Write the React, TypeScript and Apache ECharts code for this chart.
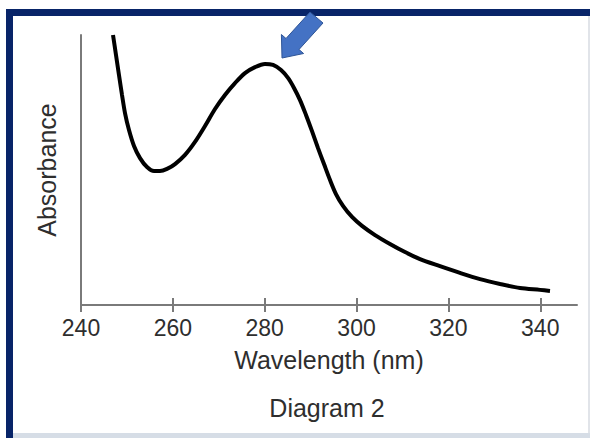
import React, { useEffect, useRef } from "react";
import * as echarts from "echarts";

const wavelengths = [246.97, 247.62, 248.27, 248.93, 249.58, 250.45, 251.54, 252.85, 254.37, 255.9, 257.2, 258.73, 260.47, 262.65, 264.82, 267.0, 269.18, 271.35, 273.53, 275.71, 277.89, 280.06, 281.81, 283.55, 285.07, 286.38, 287.69, 288.99, 290.3, 291.61, 292.91, 294.22, 295.52, 297.05, 299.01, 301.19, 304.02, 307.28, 310.55, 313.81, 318.17, 322.52, 326.88, 331.23, 335.59, 339.94, 342.12];
const absorbance = [1.0, 0.926, 0.852, 0.778, 0.711, 0.648, 0.589, 0.544, 0.511, 0.496, 0.496, 0.504, 0.522, 0.556, 0.604, 0.663, 0.726, 0.778, 0.822, 0.859, 0.881, 0.893, 0.889, 0.87, 0.841, 0.804, 0.759, 0.704, 0.644, 0.581, 0.522, 0.463, 0.411, 0.367, 0.326, 0.293, 0.259, 0.226, 0.196, 0.17, 0.144, 0.119, 0.096, 0.078, 0.063, 0.056, 0.052];
const xTicks = [240, 260, 280, 300, 320, 340];
const xTitle = "Wavelength (nm)";
const yTitle = "Absorbance";
const caption = "Diagram 2";

export default function App() {
  const ref = useRef<HTMLDivElement>(null);
  useEffect(() => {
    document.body.style.margin = "0";
    const chart = echarts.init(ref.current!, null, { renderer: "svg" });
    const font = "'Liberation Sans', Arial, sans-serif";
    const axisColor = "#7a7a7a";
    const textColor = "#2e2e2e";
    chart.setOption({
      animation: false,
      backgroundColor: "#ffffff",
      grid: { left: 81, top: 35, right: 13, bottom: 133, containLabel: false },
      xAxis: [
        {
          type: "value",
          min: 240,
          max: 348,
          interval: 20,
          name: xTitle,
          nameLocation: "middle",
          nameGap: 42,
          nameTextStyle: { fontFamily: font, fontSize: 25, color: textColor },
          axisLine: { show: true, lineStyle: { color: axisColor, width: 2 } },
          axisTick: { show: true, length: 7, customValues: xTicks, lineStyle: { color: axisColor, width: 2 } },
          axisLabel: { customValues: xTicks, margin: 11, fontFamily: font, fontSize: 23, color: textColor },
          splitLine: { show: false },
        },
        {
          type: "value",
          min: 240,
          max: 348,
          interval: 20,
          position: "bottom",
          axisLine: { show: false },
          axisTick: { show: true, inside: true, length: 7, customValues: xTicks, lineStyle: { color: axisColor, width: 2 } },
          axisLabel: { show: false },
          splitLine: { show: false },
        },
      ],
      yAxis: {
        type: "value",
        min: 0,
        max: 1,
        name: yTitle,
        nameLocation: "middle",
        nameGap: 22,
        nameTextStyle: { fontFamily: font, fontSize: 25, color: textColor },
        axisLine: { show: true, lineStyle: { color: axisColor, width: 2 } },
        axisTick: { show: false },
        axisLabel: { show: false },
        splitLine: { show: false },
      },
      series: [
        {
          type: "line",
          xAxisIndex: 0,
          data: wavelengths.map((w, i) => [w, absorbance[i]]),
          smooth: 0.3,
          symbol: "none",
          lineStyle: { color: "#000000", width: 4 },
          clip: false,
        },
      ],
      graphic: [
        { type: "rect", left: 13, top: 433, shape: { width: 577, height: 5 }, style: { fill: "#d6dde6" }, z: 10 },
        { type: "rect", left: 588.5, top: 16, shape: { width: 1, height: 417 }, style: { fill: "#c4cad3" }, z: 10 },
        { type: "rect", left: 6, top: 9, shape: { width: 584, height: 7 }, style: { fill: "#082468" }, z: 10 },
        { type: "rect", left: 6, top: 9, shape: { width: 7, height: 429 }, style: { fill: "#082468" }, z: 10 },
        {
          type: "text",
          x: 327,
          y: 408,
          style: { text: caption, fontFamily: font, fontSize: 25, fill: textColor, textAlign: "center", textVerticalAlign: "middle" },
          z: 10,
        },
        {
          type: "polygon",
          shape: {
            points: [
              [282, 58],
              [281.4, 34.5],
              [286, 38.5],
              [310, 12],
              [323, 23],
              [299, 49.5],
              [303.6, 53.5],
            ],
          },
          style: { fill: "#4472c4", stroke: "#2f5597", lineWidth: 1 },
          z: 20,
        },
      ],
    });
    return () => chart.dispose();
  }, []);
  return <div ref={ref} style={{ width: 590, height: 438, position: "fixed", left: 0, top: 0 }} />;
}
